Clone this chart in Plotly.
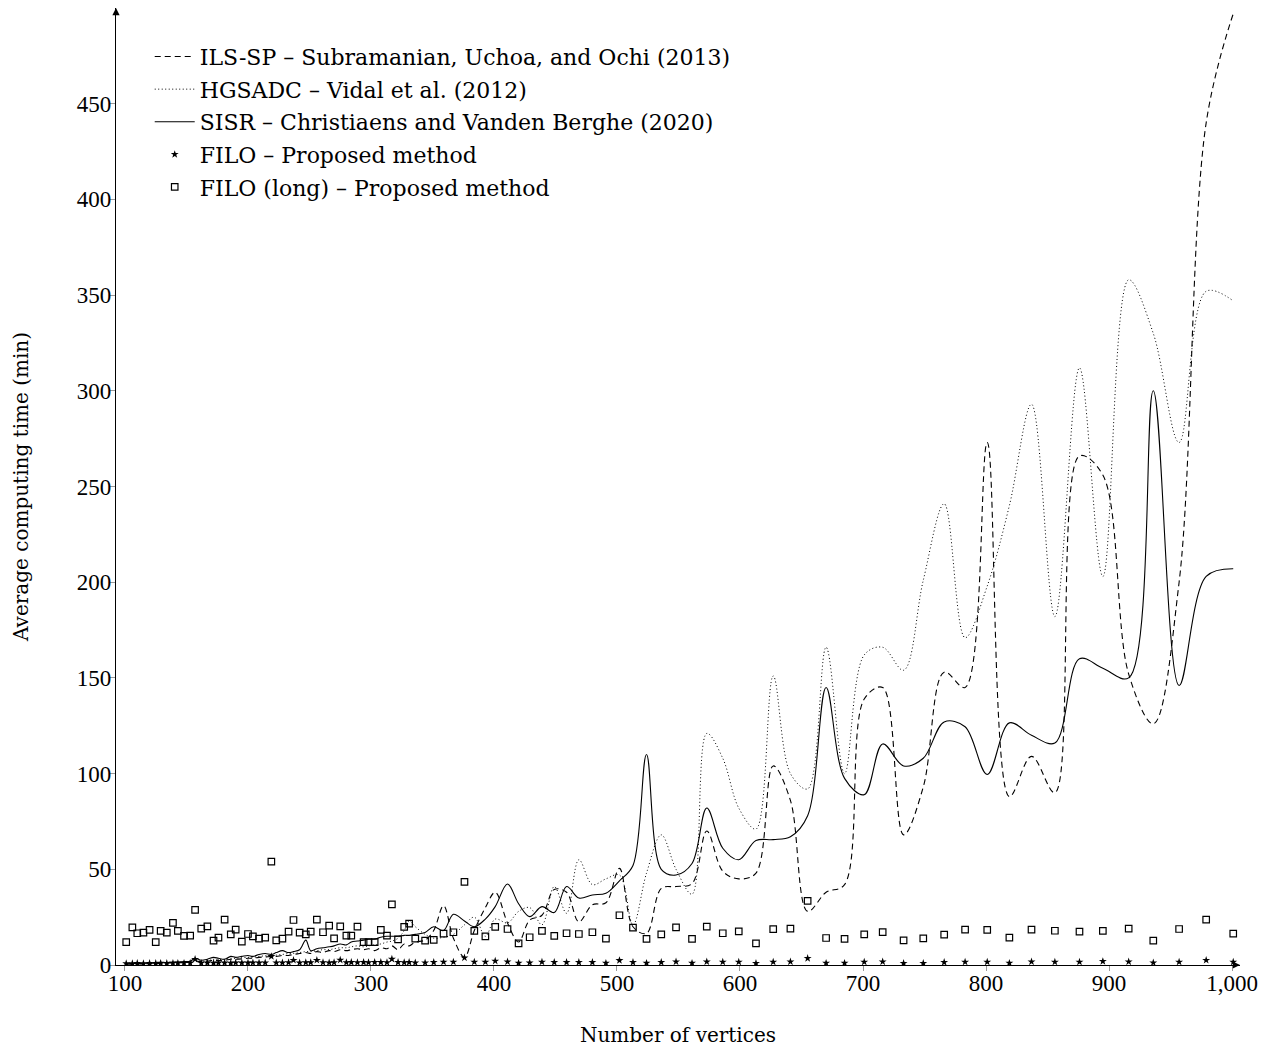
import plotly.graph_objects as go

# Instance sizes (number of vertices) of the X benchmark set
vertices = [101, 106, 110, 115, 120, 125, 129, 134, 139, 143, 148, 153,
            157, 162, 167, 172, 176, 181, 186, 190, 195, 200,
            204, 209, 214, 219, 223, 228, 233, 237, 242, 247,
            251, 256, 261, 266, 270, 275, 280, 284, 289, 294,
            298, 303, 308, 313, 317, 322, 327, 331, 336, 344,
            351, 359, 367, 376, 384, 393, 401, 411, 420, 429,
            439, 449, 459, 469, 480, 491, 502, 513, 524, 536,
            548, 561, 573, 586, 599, 613, 627, 641, 655, 670,
            685, 701, 716, 733, 749, 766, 783, 801, 819, 837,
            856, 876, 895, 916, 936, 957, 979, 1001]

# Average computing time (min) per algorithm
ils_sp = [0.4, 0.5, 0.5, 0.6, 0.7, 0.8, 0.9, 1.0, 1.1, 1.2, 1.3, 1.5,
          2.0, 1.8, 2.0, 2.5, 2.3, 2.5, 3.0, 3.0, 3.2, 3.5,
          3.5, 4.0, 4.2, 4.5, 4.5, 5.0, 5.0, 5.5, 6.0, 6.5,
          6.0, 7.0, 6.5, 7.5, 7.0, 8.0, 7.5, 8.0, 8.5, 8.0,
          8.5, 7.5, 9.0, 8.5, 10.0, 8.0, 11.0, 10.0, 12.0, 13.0,
          18.0, 31.0, 14.0, 4.0, 18.0, 30.0, 38.0, 22.0, 12.0, 23.5,
          26.0, 39.5, 38.0, 22.5, 31.5, 32.5, 50.5, 20.0, 16.5, 40.0,
          41.0, 42.5, 70.0, 49.0, 45.0, 48.0, 104.0, 86.0, 28.0, 38.0,
          42.0, 139.0, 145.0, 68.0, 93.0, 153.0, 145.0, 273.0, 88.0, 109.0,
          90.0, 266.0, 256.0, 152.0, 126.0, 200.0, 440.0, 497.0]

hgsadc = [0.5, 0.6, 0.6, 0.7, 0.8, 0.9, 1.0, 1.1, 1.2, 1.3, 1.4, 1.6,
          2.5, 2.0, 2.2, 3.0, 2.8, 3.0, 3.5, 3.5, 3.8, 4.0,
          4.0, 4.5, 4.8, 5.0, 5.2, 5.5, 6.0, 6.0, 6.5, 7.0,
          7.0, 7.5, 8.0, 8.0, 8.5, 9.0, 9.0, 9.5, 10.0, 9.5,
          10.0, 10.5, 11.0, 12.0, 12.5, 14.0, 18.0, 23.0, 20.0, 16.0,
          14.0, 14.5, 16.0, 21.0, 25.0, 15.0, 24.0, 22.0, 28.0, 30.0,
          21.0, 41.0, 27.0, 55.0, 42.0, 45.0, 47.0, 21.0, 48.0, 68.0,
          50.0, 37.0, 121.0, 108.0, 82.0, 71.0, 151.0, 100.0, 92.0, 166.0,
          100.0, 162.0, 166.0, 154.0, 201.0, 241.0, 171.0, 198.0, 240.0, 293.0,
          182.0, 312.0, 203.0, 358.0, 330.0, 273.0, 352.0, 347.0]

sisr = [0.6, 0.7, 0.8, 0.9, 1.0, 1.0, 1.1, 1.3, 1.4, 1.6, 1.8, 2.0,
        3.5, 2.5, 3.0, 4.0, 3.5, 3.0, 4.5, 4.0, 4.5, 5.0,
        4.5, 5.5, 6.0, 5.5, 6.5, 7.5, 6.5, 7.0, 8.0, 13.0,
        7.5, 8.5, 9.0, 9.5, 10.0, 11.0, 10.5, 12.0, 12.5, 13.0,
        13.5, 13.5, 14.5, 15.0, 15.0, 15.0, 15.5, 15.5, 16.0, 17.0,
        20.0, 18.0, 26.5, 23.0, 20.0, 24.0, 30.5, 42.3, 32.0, 25.3,
        30.5, 27.4, 41.0, 35.0, 36.6, 37.5, 44.0, 52.0, 110.0, 50.0,
        47.0, 53.0, 82.0, 61.0, 55.0, 65.0, 65.5, 67.0, 78.0, 145.0,
        97.5, 89.0, 115.5, 104.0, 108.0, 127.0, 124.5, 99.5, 126.5, 120.0,
        116.0, 160.0, 155.0, 150.0, 300.0, 146.0, 203.0, 207.0]

filo = [0.8, 0.8, 0.9, 0.8, 0.9, 0.9, 1.0, 0.9, 1.0, 1.0, 1.0, 1.0,
        3.0, 1.0, 1.1, 1.0, 1.1, 1.1, 1.0, 1.2, 1.1, 1.1,
        1.2, 1.1, 1.2, 4.5, 1.2, 1.2, 1.3, 2.5, 1.2, 1.3,
        1.3, 2.5, 1.3, 1.2, 1.3, 2.6, 1.3, 1.4, 1.3, 1.4,
        1.3, 1.4, 1.4, 1.3, 3.1, 1.4, 1.3, 1.4, 1.2, 1.2,
        1.4, 1.6, 1.6, 3.8, 1.6, 1.6, 2.1, 1.7, 1.0, 1.2,
        1.6, 1.4, 1.4, 1.4, 1.4, 1.0, 2.4, 1.4, 1.0, 1.4,
        1.7, 1.0, 1.7, 1.6, 1.6, 0.9, 1.6, 1.7, 3.5, 1.0,
        1.0, 1.6, 1.7, 0.9, 0.9, 1.4, 1.6, 1.6, 1.0, 1.7,
        1.6, 1.6, 1.9, 1.7, 1.2, 1.6, 2.5, 1.6]

filo_long = [12.0, 19.7, 16.6, 16.9, 18.3, 11.9, 17.8, 16.9, 22.0, 17.8, 15.2, 15.3,
             28.8, 19.0, 20.2, 12.7, 14.3, 23.7, 16.0, 18.5, 12.2, 16.2,
             15.0, 13.8, 14.3, 54.0, 12.9, 13.8, 17.4, 23.5, 16.9, 16.0,
             17.4, 23.7, 17.1, 20.6, 13.9, 20.2, 15.3, 15.3, 20.0, 12.0,
             12.0, 12.0, 18.3, 15.3, 31.7, 13.4, 19.9, 21.6, 13.8, 12.7,
             13.1, 16.4, 17.1, 43.4, 17.8, 15.0, 19.9, 18.8, 11.3, 14.5,
             17.8, 15.2, 16.6, 16.2, 17.1, 13.8, 26.0, 19.5, 13.6, 16.0,
             19.7, 13.6, 20.0, 16.6, 17.6, 11.3, 18.7, 19.0, 33.5, 14.1,
             13.6, 16.0, 17.2, 12.9, 13.9, 15.9, 18.5, 18.3, 14.3, 18.5,
             17.9, 17.4, 17.8, 19.0, 12.7, 18.8, 23.7, 16.4]

x_ticks = [100, 200, 300, 400, 500, 600, 700, 800, 900, 1000]
x_tick_text = ["100", "200", "300", "400", "500", "600", "700", "800", "900", "1,000"]
y_ticks = [0, 50, 100, 150, 200, 250, 300, 350, 400, 450]

NUM_FONT = "Liberation Serif"
TEXT_FONT = "DejaVu Serif"
X_RANGE = [92.7, 1006.5]
Y_RANGE = [0, 500]

fig = go.Figure()

line_series = [
    ("ILS-SP – Subramanian, Uchoa, and Ochi (2013)", ils_sp, "6px,4px", 1.1),
    ("HGSADC – Vidal et al. (2012)", hgsadc, "1px,2.5px", 1.0),
    ("SISR – Christiaens and Vanden Berghe (2020)", sisr, "solid", 1.1),
]
for i, (name, values, dash, width) in enumerate(line_series):
    fig.add_trace(go.Scatter(
        x=vertices, y=values, name=name, mode="lines",
        line=dict(color="black", width=width, dash=dash, shape="spline", smoothing=1.0),
        legendgroup=f"g{i}",
    ))

fig.add_trace(go.Scatter(
    x=vertices, y=filo, name="FILO – Proposed method", mode="markers",
    marker=dict(symbol="star", size=6, color="black"),
    legendgroup="g3",
))
fig.add_trace(go.Scatter(
    x=vertices, y=filo_long, name="FILO (long) – Proposed method", mode="markers",
    marker=dict(symbol="square-open", size=6.5, color="black", line=dict(width=1.2)),
    legendgroup="g4",
))

# Arrow heads at the ends of both axes
fig.add_annotation(x=X_RANGE[1], y=0, ax=X_RANGE[1] - 6, ay=0, xref="x", yref="y",
                   axref="x", ayref="y", text="", showarrow=True,
                   arrowhead=2, arrowsize=1.2, arrowwidth=1.2, arrowcolor="black")
fig.add_annotation(x=X_RANGE[0], y=Y_RANGE[1], ax=X_RANGE[0], ay=Y_RANGE[1] - 4,
                   xref="x", yref="y", axref="x", ayref="y", text="", showarrow=True,
                   arrowhead=2, arrowsize=1.2, arrowwidth=1.2, arrowcolor="black")

fig.update_layout(
    width=1269, height=1047,
    margin=dict(l=116, r=29, t=8, b=82, autoexpand=False),
    paper_bgcolor="white", plot_bgcolor="white",
    font=dict(family=TEXT_FONT, size=21, color="black"),
    showlegend=True,
    legend=dict(
        x=0.03, y=0.971, xanchor="left", yanchor="top",
        font=dict(family=TEXT_FONT, size=22, color="black"),
        bgcolor="rgba(0,0,0,0)", itemwidth=40, tracegroupgap=1,
        traceorder="grouped",
    ),
    xaxis=dict(
        range=X_RANGE, tickvals=x_ticks, ticktext=x_tick_text, automargin=False,
        showgrid=False, zeroline=False, showline=True, linecolor="black", linewidth=1.2,
        ticks="outside", ticklen=5, tickcolor="#999999", tickwidth=1,
        ticklabelstandoff=-8,
        tickfont=dict(family=NUM_FONT, size=23),
        title=dict(text="Number of vertices", font=dict(family=TEXT_FONT, size=20), standoff=33),
    ),
    yaxis=dict(
        range=Y_RANGE, tickvals=y_ticks, automargin=False,
        showgrid=False, zeroline=False, showline=True, linecolor="black", linewidth=1.2,
        ticks="outside", ticklen=5, tickcolor="#999999", tickwidth=1,
        ticklabelstandoff=-6,
        tickfont=dict(family=NUM_FONT, size=23),
        title=dict(text="Average computing time (min)", font=dict(family=TEXT_FONT, size=20), standoff=42),
    ),
)

fig.write_html("out.html")
